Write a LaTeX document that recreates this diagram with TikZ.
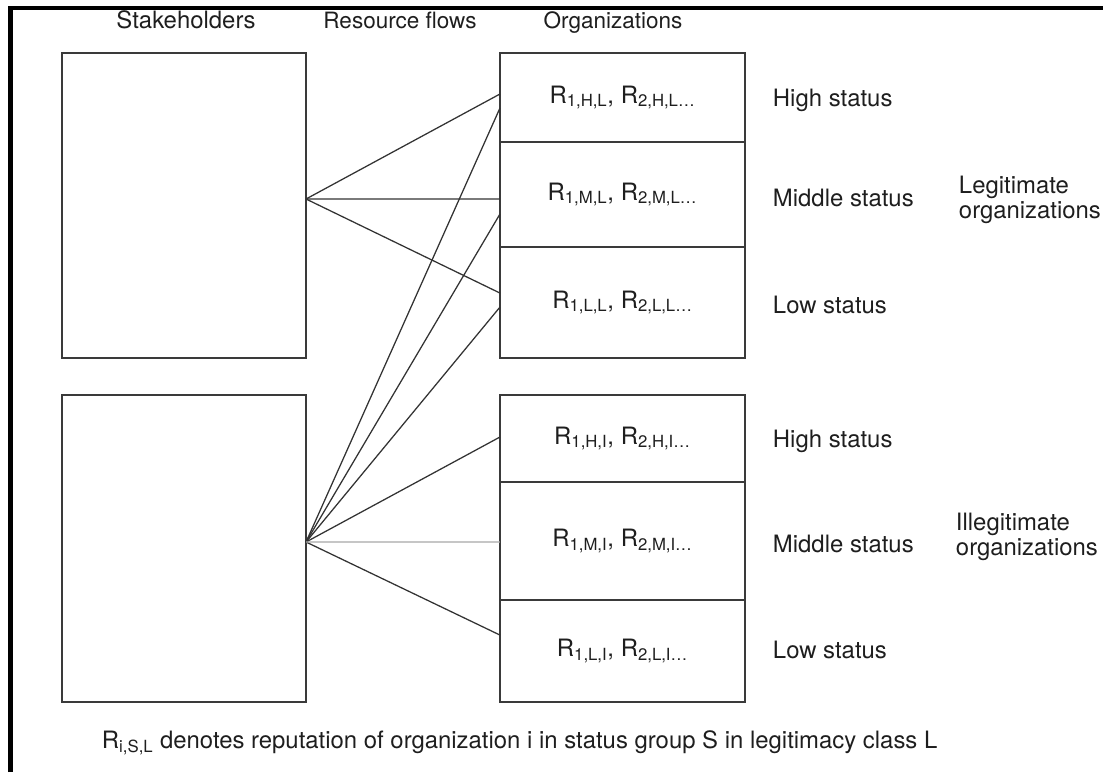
\documentclass[tikz,border=0pt]{standalone}
\usepackage{fontspec}
\setmainfont{TeX Gyre Heros}
\usetikzlibrary{calc,positioning}
\definecolor{boxgray}{HTML}{3A3A3A}
\definecolor{flowgray}{HTML}{333333}
\definecolor{lightflow}{HTML}{A8A8A8}
\definecolor{textdark}{HTML}{1E1E1E}

\begin{document}
\begin{tikzpicture}[x=.025cm,y=-.025cm,
			every node/.style={font=\fontsize{17}{18}\selectfont,text=textdark},
			head/.style={anchor=base,font=\fontsize{16}{18}\selectfont},
			party/.style={draw=boxgray,line width=1.4pt,minimum width=6.1cm,
				inner sep=0pt,outer sep=0pt},
			cell/.style={draw=boxgray,line width=1.4pt,minimum width=6.125cm,
				inner sep=0pt,outer sep=0pt},
			flow/.style={draw=flowgray,line width=.9pt}]
			\useasboundingbox (0,0) rectangle (1103,772);
			\draw[line width=2.9pt,black] (10.5,772) |- (1103,8);
			% column heads
			\node[head,font=\fontsize{17}{18}\selectfont] (hstake) at (186,28) {Stakeholders};
			\node[head] (hflow) at (400,28) {Resource flows};
			\node[head] (horg) at (613,28) {Organizations};
			% stakeholders
			\node[party,minimum height=7.625cm] (sh1) at (184,205.5) {};
			\node[party,minimum height=7.675cm] (sh2) at (184,548.5) {};
			% legitimate organizations
			\node[cell,minimum height=2.225cm] (hl) at (622.5,97.5) {R\textsubscript{1,H,L}, R\textsubscript{2,H,L\ldots}};
			\node[cell,minimum height=2.625cm,below=0pt of hl] (ml) {R\textsubscript{1,M,L}, R\textsubscript{2,M,L\ldots}};
			\node[cell,minimum height=2.775cm,below=0pt of ml] (ll) {R\textsubscript{1,L,L}, R\textsubscript{2,L,L\ldots}};
			% illegitimate organizations
			\node[cell,minimum height=2.175cm] (hi) at (622.5,438.5) {R\textsubscript{1,H,I}, R\textsubscript{2,H,I\ldots}};
			\node[cell,minimum height=2.95cm,below=0pt of hi] (mi) {R\textsubscript{1,M,I}, R\textsubscript{2,M,I\ldots}};
			\node[cell,minimum height=2.55cm,below=0pt of mi] (li) {R\textsubscript{1,L,I}, R\textsubscript{2,L,I\ldots}};
			% status labels
			\node[anchor=west] (shl) at (768,100) {High status};
			\node[anchor=west] (sml) at (768,198) {Middle status};
			\node[anchor=west] (sll) at (768,305) {Low status};
			\node[anchor=west] (shi) at (768,441) {High status};
			\node[anchor=west] (smi) at (768,544) {Middle status};
			\node[anchor=west] (sli) at (768,650) {Low status};
			\node[anchor=west,align=left] (glegit) at (954,200) {Legitimate\\organizations};
			\node[anchor=west,align=left] (gillegit) at (951,537) {Illegitimate\\organizations};
			% resource flows
			\coordinate (s1) at ($(sh1.east)+(0,-6.5)$);
			\coordinate (s2) at ($(sh2.east)+(0,-6.5)$);
			\foreach \s/\t/\d in {s1/hl/-3.5,s1/ml/4.5,s1/ll/-9.5,s2/hl/10.5,s2/ml/19.5,
				s2/ll/4.5,s2/hi/-1.5,s2/li/-16}
			{\draw[flow] (\s) -- ($(\t.west)+(0,\d)$);}
			\draw[flow,draw=lightflow] (s2) -- ($(mi.west)+(0,1)$);
			\node[anchor=west] (note) at (97,743)
			{R\textsubscript{i,S,L} denotes reputation of organization i in status group S in legitimacy class L};
		\end{tikzpicture}
\end{document}
